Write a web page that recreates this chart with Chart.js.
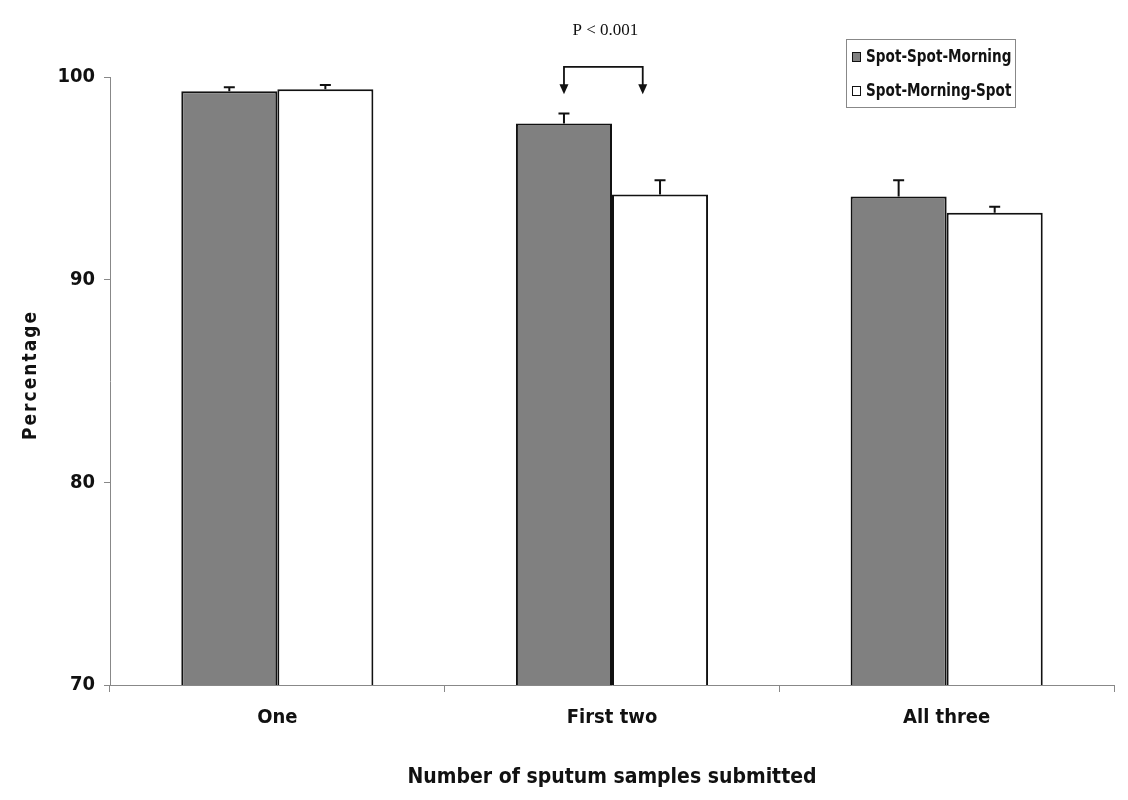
<!DOCTYPE html>
<html>
<head>
<meta charset="utf-8">
<script src="https://cdn.jsdelivr.net/npm/chart.js@4.4.1/dist/chart.umd.min.js"></script>
<style>
  html, body { margin: 0; padding: 0; background: #fff; }
  #wrap { width: 1128px; height: 800px; }
</style>
</head>
<body>
<div id="wrap"><canvas id="sputumchart"></canvas></div>
<script>
// 値は図から読み取った推定値
const categories = ["One", "First two", "All three"];
const seriesNames = ["Spot-Spot-Morning", "Spot-Morning-Spot"];
const ssmValues = [99.3, 97.7, 94.1];
const ssmErrors = [0.2, 0.5, 0.8];
const smsValues = [99.4, 94.2, 93.3];
const smsErrors = [0.2, 0.7, 0.3];
const yTicks = [70, 80, 90, 100];
const pLabel = "P < 0.001";

const narrow = "'Liberation Sans Narrow', 'Arial Narrow', 'DejaVu Sans Condensed', sans-serif";

// エラーバー・有意差の矢印・凡例・縦軸タイトルを描くプラグイン
const extrasPlugin = {
  id: "extras",
  afterDatasetsDraw(chart) {
    const ctx = chart.ctx;
    const y = chart.scales.y;
    const area = chart.chartArea;
    const values = [ssmValues, smsValues];
    const errors = [ssmErrors, smsErrors];

    ctx.save();
    ctx.strokeStyle = "#111";
    ctx.lineWidth = 2;
    errors.forEach((errs, di) => {
      chart.getDatasetMeta(di).data.forEach((bar, i) => {
        const yTop = y.getPixelForValue(values[di][i] + errs[i]);
        const yBar = y.getPixelForValue(values[di][i]);
        ctx.beginPath();
        ctx.moveTo(bar.x, yBar);
        ctx.lineTo(bar.x, yTop);
        ctx.moveTo(bar.x - 5.5, yTop);
        ctx.lineTo(bar.x + 5.5, yTop);
        ctx.stroke();
      });
    });

    // P < 0.001 の括弧（First two）
    const b0 = chart.getDatasetMeta(0).data[1];
    const b1 = chart.getDatasetMeta(1).data[1];
    const x0 = b0.x;
    const x1 = b1.x - b1.width * 0.18;
    const yLine = y.getPixelForValue(100.5);
    const yTip = y.getPixelForValue(99.15);
    ctx.lineWidth = 1.8;
    ctx.beginPath();
    ctx.moveTo(x0, yTip - 8);
    ctx.lineTo(x0, yLine);
    ctx.lineTo(x1, yLine);
    ctx.lineTo(x1, yTip - 8);
    ctx.stroke();
    ctx.fillStyle = "#111";
    [x0, x1].forEach((ax) => {
      ctx.beginPath();
      ctx.moveTo(ax - 4.5, yTip - 10);
      ctx.lineTo(ax + 4.5, yTip - 10);
      ctx.lineTo(ax, yTip);
      ctx.closePath();
      ctx.fill();
    });
    ctx.font = "17px 'Liberation Serif', serif";
    ctx.textAlign = "center";
    ctx.textBaseline = "middle";
    ctx.fillText(pLabel, (x0 + x1) / 2 + 2, y.getPixelForValue(102.27));

    // 凡例
    const lx = 846, ly = 39, lw = 169, lh = 68;
    ctx.lineWidth = 1;
    ctx.strokeStyle = "#888";
    ctx.fillStyle = "#fff";
    ctx.fillRect(lx, ly, lw, lh);
    ctx.strokeRect(lx + 0.5, ly + 0.5, lw, lh);
    const fills = ["#808080", "#ffffff"];
    ctx.textAlign = "left";
    seriesNames.forEach((name, i) => {
      const cy = ly + 18 + i * 34;
      ctx.fillStyle = fills[i];
      ctx.fillRect(852, cy - 4, 8, 9);
      ctx.strokeStyle = "#111";
      ctx.strokeRect(852.5, cy - 4.5, 8, 9);
      ctx.fillStyle = "#111";
      ctx.save();
      ctx.translate(866, cy);
      ctx.scale(0.84, 1);
      ctx.font = "bold 18px " + narrow;
      ctx.fillText(name, 0, 0);
      ctx.restore();
    });

    // 縦軸タイトル
    ctx.save();
    ctx.translate(31, (area.top + area.bottom) / 2 - 6);
    ctx.rotate(-Math.PI / 2);
    ctx.letterSpacing = "2px";
    ctx.font = "bold 19px " + narrow;
    ctx.textAlign = "center";
    ctx.fillText("Percentage", 0, 0);
    ctx.restore();

    ctx.restore();
  },
};

const config = {
  type: "bar",
  data: {
    labels: categories,
    datasets: [
      {
        label: seriesNames[0],
        data: ssmValues,
        backgroundColor: "#808080",
        borderColor: "#111",
        borderWidth: 2,
        borderSkipped: false,
        barPercentage: 1.0,
        categoryPercentage: 0.574,
      },
      {
        label: seriesNames[1],
        data: smsValues,
        backgroundColor: "#ffffff",
        borderColor: "#111",
        borderWidth: 2,
        borderSkipped: false,
        barPercentage: 1.0,
        categoryPercentage: 0.574,
      },
    ],
  },
  options: {
    responsive: true,
    maintainAspectRatio: false,
    animation: false,
    layout: { padding: { top: 77, right: 14, left: 0, bottom: 0 } },
    plugins: {
      legend: { display: false },
      tooltip: { enabled: false },
    },
    scales: {
      x: {
        afterFit(scale) { scale.height = 115; },
        grid: {
          offset: true,
          drawOnChartArea: false,
          tickLength: 7,
          color: "#888",
        },
        border: { color: "#888", width: 1 },
        ticks: {
          color: "#111",
          padding: 14,
          font: { family: narrow, size: 20, weight: "bold" },
        },
        title: {
          display: true,
          text: "Number of sputum samples submitted",
          color: "#111",
          padding: { top: 0, bottom: 10 },
          font: { family: narrow, size: 21, weight: "bold" },
        },
      },
      y: {
        min: 70,
        max: 100,
        afterFit(scale) { scale.width = 110; },
        afterBuildTicks(scale) {
          scale.ticks = yTicks.map((v) => ({ value: v }));
        },
        grid: {
          drawOnChartArea: false,
          tickLength: 6,
          color: "#888",
        },
        border: { color: "#888", width: 1 },
        ticks: {
          color: "#111",
          padding: 9,
          font: { family: narrow, size: 20, weight: "bold" },
        },
      },
    },
  },
  plugins: [extrasPlugin],
};

new Chart(document.getElementById("sputumchart").getContext("2d"), config);
</script>
</body>
</html>
